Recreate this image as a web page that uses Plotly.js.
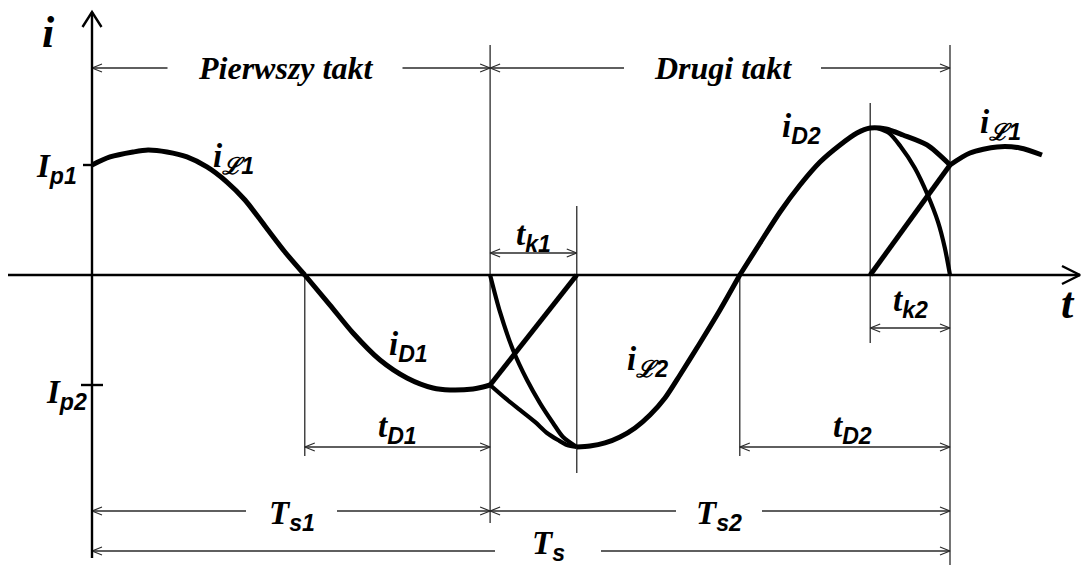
<!DOCTYPE html>
<html>
<head>
<meta charset="utf-8">
<script src="https://cdn.plot.ly/plotly-3.0.1.min.js"></script>
<style>
  html, body { margin: 0; padding: 0; background: #fff; }
  #chart { width: 1081px; height: 568px; }
</style>
</head>
<body>
<div id="chart"></div>
<script>
// Time is given in % of the switching period Ts, current in units of Ip1.

// Switching instants
const tD1Start = 24.8;   // iL1 crosses zero, diode D1 starts conducting
const Ts1 = 46.4;        // end of the first stroke
const tk1End = 56.5;     // end of the first commutation
const tD2Start = 75.5;   // iL2 crosses zero, diode D2 starts conducting
const tk2Start = 90.7;   // start of the second commutation
const Ts = 100;          // full period

// Current levels at the switching instants
const Ip1 = 1.0;
const Ip2 = -1.0;

// First stroke: iL1 until zero crossing, then iD1
const iL1Time = [0, 2.10, 4.78, 6.53, 8.74, 11.07, 13.40, 15.73, 17.83, 20.16, 22.49, 24.8];
const iL1Curr = [1.0, 1.073, 1.118, 1.136, 1.118, 1.073, 0.982, 0.845, 0.682, 0.445, 0.209, 0];
const iD1Time = [24.8, 27.74, 30.42, 33.57, 36.71, 39.74, 41.72, 44.41, 45.57, 46.4];
const iD1Curr = [0, -0.273, -0.527, -0.773, -0.936, -1.027, -1.045, -1.036, -1.018, -1.0];

// First commutation (tk1)
const ramp1Time = [46.4, 56.5];
const ramp1Curr = [-1.0, 0];
const fall1Time = [46.4, 47.55, 49.07, 50.7, 52.21, 53.73, 54.9, 56.5];
const fall1Curr = [0, -0.336, -0.682, -0.955, -1.164, -1.345, -1.473, -1.564];
const low1Time = [46.4, 48.14, 49.88, 51.63, 53.03, 54.31, 55.36, 56.5];
const low1Curr = [-1.0, -1.118, -1.227, -1.336, -1.436, -1.5, -1.545, -1.564];

// Second stroke: iL2 until zero crossing, then iD2
const iL2Time = [56.5, 58.04, 59.79, 61.54, 63.29, 65.03, 66.78, 68.53, 70.86, 73.19, 75.5];
const iL2Curr = [-1.564, -1.555, -1.527, -1.473, -1.391, -1.273, -1.118, -0.909, -0.618, -0.318, 0];
const iD2Time = [75.5, 77.86, 80.19, 82.52, 84.85, 87.18, 89.16, 90.7, 92.54, 94.52, 97.32, 100];
const iD2Curr = [0, 0.291, 0.573, 0.818, 1.027, 1.182, 1.291, 1.336, 1.327, 1.273, 1.182, 1.0];

// Second commutation (tk2)
const fall2Time = [91.6, 92.9, 94.2, 95.9, 97.4, 98.6, 99.4, 100];
const fall2Curr = [1.333, 1.29, 1.173, 0.973, 0.727, 0.482, 0.245, 0];
const ramp2Time = [90.7, 100];
const ramp2Curr = [0, 1.0];

// Next period: iL1 again
const iL1NextTime = [100, 102.33, 105.48, 108.16, 110.72];
const iL1NextCurr = [1.0, 1.109, 1.164, 1.155, 1.091];

// ---- drawing geometry (pixels) ----
const W = 1081, H = 568;
const X0 = 92, Y0 = 275;              // pixel position of the origin
const PX_T = 8.58, PX_I = 110;        // pixels per time unit / per current unit
const T = px => (px - X0) / PX_T;
const I = py => (Y0 - py) / PX_I;

function group(width, color) {
  return { x: [], y: [], mode: 'lines', hoverinfo: 'skip',
           line: { width: width, color: color } };
}
const axisG = group(2.4, '#000');
const thinG = group(1.3, '#2a2a2a');
const headG = group(1.2, '#2a2a2a');

function seg(g, t0, i0, t1, i1) {
  g.x.push(t0, t1, null);
  g.y.push(i0, i1, null);
}
// open arrowhead, tip at (t,i), pointing along (dx,dy) in screen pixels
function chevron(g, t, i, dx, dy, len, half) {
  const nx = -dy, ny = dx;
  const p = (ox, oy) => [t + ox / PX_T, i - oy / PX_I];
  const a = p(-dx * len + nx * half, -dy * len + ny * half);
  const b = p(-dx * len - nx * half, -dy * len - ny * half);
  g.x.push(a[0], t, b[0], null);
  g.y.push(a[1], i, b[1], null);
}
function vline(t, pyTop, pyBot) { seg(thinG, t, I(pyTop), t, I(pyBot)); }
function dim(tA, tB, py, gapCenterPx, gapHalfPx) {
  const i = I(py);
  if (gapCenterPx != null) {
    seg(thinG, tA, i, T(gapCenterPx - gapHalfPx), i);
    seg(thinG, T(gapCenterPx + gapHalfPx), i, tB, i);
  } else {
    seg(thinG, tA, i, tB, i);
  }
  chevron(headG, tA, i, -1, 0, 10, 4);
  chevron(headG, tB, i, 1, 0, 10, 4);
}

// axes
seg(axisG, 0, I(558), 0, I(12));
chevron(axisG, 0, I(12), 0, -1, 15, 9.5);
seg(axisG, T(8), 0, T(1080), 0);
chevron(axisG, T(1080), 0, 1, 0, 18, 9);
// Ip ticks
seg(axisG, T(83), Ip1, 0, Ip1);
seg(axisG, T(81), Ip2, T(103), Ip2);

// extension lines
vline(tD1Start, Y0, 456);
vline(Ts1, 45, 523);
vline(tk1End, 206, 473);
vline(tD2Start, Y0, 456);
vline(tk2Start, 103, 343);
vline(Ts, 45, 565);

// dimension lines
dim(0, Ts1, 68, 285, 117.5);
dim(Ts1, Ts, 68, 722.5, 98.5);
dim(Ts1, tk1End, 253);
dim(tk2Start, Ts, 328);
dim(tD1Start, Ts1, 447);
dim(tD2Start, Ts, 447);
dim(0, Ts1, 511, 291.5, 45.5);
dim(Ts1, Ts, 511, 719, 43);
dim(0, Ts, 551, 548, 53);

function wave(x, y, width, smooth) {
  return { x: x, y: y, mode: 'lines', hoverinfo: 'skip',
           line: { width: width, color: '#000', shape: smooth ? 'spline' : 'linear',
                   smoothing: 0.8 } };
}

const traces = [
  thinG, headG, axisG,
  wave(iL1Time, iL1Curr, 5, true),
  wave(iD1Time, iD1Curr, 5, true),
  wave(ramp1Time, ramp1Curr, 5, false),
  wave(fall1Time, fall1Curr, 4.2, true),
  wave(low1Time, low1Curr, 4.2, true),
  wave(iL2Time, iL2Curr, 5, true),
  wave(iD2Time, iD2Curr, 5, true),
  wave(fall2Time, fall2Curr, 4.2, true),
  wave(ramp2Time, ramp2Curr, 5, false),
  wave(iL1NextTime, iL1NextCurr, 5, true)
];

// ---- text ----
const SERIF = 'Liberation Serif';
const sub = s => '<sub><span style="font-family:Liberation Sans"><b><i>' + s + '</i></b></span></sub>';
const sym = (m, s) => '<b><i>' + m + '</i></b>' + sub(s);
function lbl(t, i, text, size, xanchor) {
  return { x: t, y: i, xref: 'x', yref: 'y', text: text, showarrow: false,
           xanchor: xanchor || 'center', yanchor: 'middle',
           font: { family: SERIF, size: size, color: '#000' } };
}
const annotations = [
  lbl(T(48), I(32), '<b><i>i</i></b>', 44),
  lbl(T(1068), I(303), '<b><i>t</i></b>', 44),
  lbl(T(285), I(68), '<b><i>Pierwszy takt</i></b>', 32),
  lbl(T(722.5), I(68), '<b><i>Drugi takt</i></b>', 32),
  lbl(T(79), I(168), sym('I', 'p1'), 33, 'right'),
  lbl(T(89), I(394), sym('I', 'p2'), 33, 'right'),
  lbl(T(233), I(158), sym('i', 'ℒ1'), 33),
  lbl(T(408), I(346), sym('i', 'D1'), 33),
  lbl((Ts1 + tk1End) / 2, I(236), sym('t', 'k1'), 33),
  lbl(T(647), I(361), sym('i', 'ℒ2'), 33),
  lbl((tD1Start + Ts1) / 2, I(428), sym('t', 'D1'), 33),
  lbl(T(852), I(428), sym('t', 'D2'), 33),
  lbl(T(801), I(128), sym('i', 'D2'), 33),
  lbl(T(1000), I(124), sym('i', 'ℒ1'), 33),
  lbl((tk2Start + Ts) / 2, I(302), sym('t', 'k2'), 33),
  lbl(T(291.5), I(515), sym('T', 's1'), 33),
  lbl(T(719), I(515), sym('T', 's2'), 33),
  lbl(T(548), I(545), sym('T', 's'), 33)
];

const layout = {
  width: W, height: H,
  margin: { l: 0, r: 0, t: 0, b: 0, pad: 0 },
  paper_bgcolor: '#fff', plot_bgcolor: '#fff',
  showlegend: false,
  xaxis: { range: [T(0), T(W)], visible: false, fixedrange: true },
  yaxis: { range: [I(H), I(0)], visible: false, fixedrange: true },
  annotations: annotations
};

Plotly.newPlot('chart', traces, layout, { staticPlot: true, displayModeBar: false });
</script>
</body>
</html>
